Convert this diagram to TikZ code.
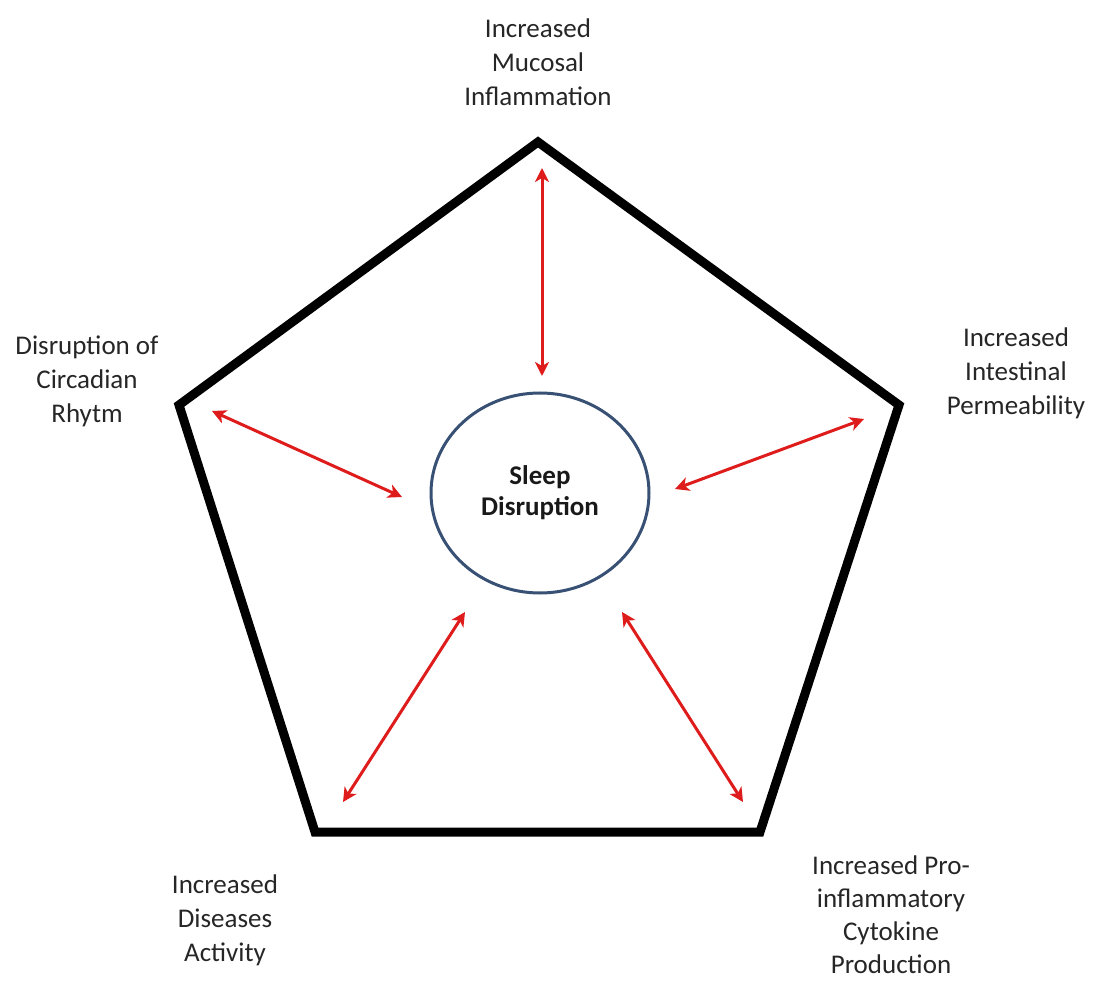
\documentclass[tikz,border=0pt]{standalone}
\usepackage{fontspec}
\setmainfont{Carlito}
\usetikzlibrary{arrows.meta}
\usetikzlibrary{shapes.geometric}
\definecolor{linkred}{RGB}{222,28,28}
\definecolor{ringblue}{RGB}{55,80,115}
\tikzset{lbl/.style={align=center, text=black!85, font=\fontsize{27}{34}\selectfont}}
\tikzset{link/.style={linkred, line width=3pt, {Stealth[length=14pt,width=14pt,inset=4pt]}-{Stealth[length=14pt,width=14pt,inset=4pt]}}}

\begin{document}
\begin{tikzpicture}[x=1pt,y=-1pt]
\useasboundingbox (0,0) rectangle (1096,981);
% pentagon corners
\coordinate (pT) at (538,142);
\coordinate (pR) at (899,405);
\coordinate (pBR) at (760,832);
\coordinate (pBL) at (315,832);
\coordinate (pL) at (179,405);
\draw[black, line width=9pt, line join=miter] (pT)--(pR)--(pBR)--(pBL)--(pL)--cycle;
% centre
\node[ellipse, draw=ringblue, line width=3pt, minimum width=218pt, minimum height=200pt,
  align=center, font=\bfseries\fontsize{27}{31}\selectfont, text=black!90] (sleep) at (540,493) {Sleep\\Disruption};
% outer labels
\node[lbl] (mucosal) at (538,62) {Increased\\Mucosal\\Inflammation};
\node[lbl] (rhytm) at (87,381) {Disruption of\\Circadian\\Rhytm};
\node[lbl] (perm) at (1016,373) {Increased\\Intestinal\\Permeability};
\node[lbl] (disease) at (225,920) {Increased\\Diseases\\Activity};
\node[lbl, font=\fontsize{27}{33}\selectfont] (cytokine) at (891,915) {Increased Pro-\\inflammatory\\Cytokine\\Production};
% arrow ends
\coordinate (aT) at (542,168);   \coordinate (sT) at (542,376);
\coordinate (aL) at (212,411);   \coordinate (sL) at (402,497);
\coordinate (aR) at (864,419);   \coordinate (sR) at (675,489);
\coordinate (aBL) at (343,802);  \coordinate (sBL) at (465,612);
\coordinate (aBR) at (743,802);  \coordinate (sBR) at (622,612);
\draw[link] (aT) -- (sT);
\draw[link] (aL) -- (sL);
\draw[link] (aR) -- (sR);
\draw[link] (aBL) -- (sBL);
\draw[link] (aBR) -- (sBR);
\end{tikzpicture}
\end{document}
